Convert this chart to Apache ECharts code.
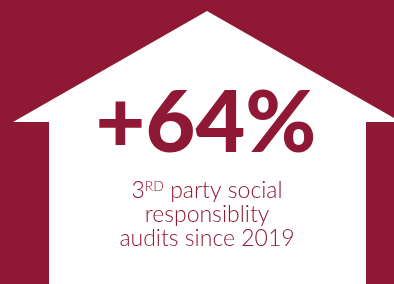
<!DOCTYPE html>
<html>
<head>
<meta charset="utf-8">
<script src="https://cdn.jsdelivr.net/npm/echarts@6/dist/echarts.min.js"></script>
<style>
  html, body { margin: 0; padding: 0; background: #8f1935; }
  #chart { width: 394px; height: 284px; }
</style>
</head>
<body>
<div id="chart"></div>
<script>
// house outline in page units (x right, y down)
const houseX = [13, 207, 401, 366, 366, 49, 49];
const houseY = [122, 11, 122, 122, 284, 284, 122];

const statValue = '+64%';
const ordinal = ['3', 'RD'];
const captionLines = [' party social', 'responsiblity', 'audits since 2019'];

const red = '#8f1935';

const chart = echarts.init(document.getElementById('chart'));

const housePoints = houseX.map((x, i) => [x, houseY[i]]);

chart.setOption({
  backgroundColor: red,
  animation: false,
  grid: { left: 0, right: 0, top: 0, bottom: 0 },
  xAxis: { type: 'value', min: 0, max: 394, show: false },
  yAxis: { type: 'value', min: 0, max: 284, inverse: true, show: false },
  series: [
    {
      type: 'custom',
      data: [0],
      silent: true,
      z: 1,
      renderItem: function (params, api) {
        const pts = housePoints.map((p) => api.coord(p));
        return {
          type: 'polygon',
          shape: { points: pts },
          style: { fill: '#ffffff' }
        };
      }
    }
  ],
  graphic: {
    elements: [
      {
        type: 'text',
        x: 206,
        y: 124,
        z: 100,
        style: {
          text: statValue,
          fill: red,
          fontFamily: 'Lato',
          fontWeight: 900,
          fontSize: 86,
          align: 'center',
          verticalAlign: 'middle'
        }
      },
      {
        type: 'text',
        x: 207,
        y: 179,
        z: 100,
        style: {
          text: '{n|' + ordinal[0] + '}{sup|' + ordinal[1] + '}{n|' + captionLines[0] + '}\n' +
            '{n|' + captionLines[1] + '}\n{n|' + captionLines[2] + '}',
          align: 'center',
          verticalAlign: 'top',
          fill: red,
          rich: {
            n: { fontFamily: 'Lato', fontWeight: 300, fontSize: 23, lineHeight: 24, fill: red },
            sup: { fontFamily: 'Lato', fontWeight: 300, fontSize: 14, lineHeight: 24, fill: red, verticalAlign: 'top' }
          }
        }
      }
    ]
  }
});
</script>
</body>
</html>
